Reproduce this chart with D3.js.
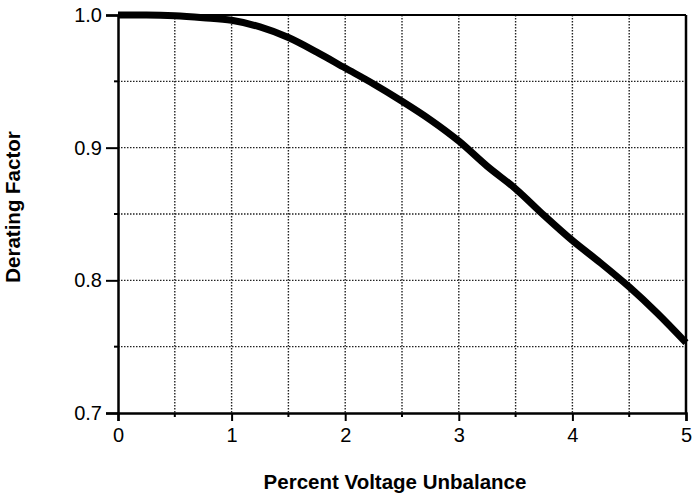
<!DOCTYPE html>
<html><head><meta charset="utf-8">
<script src="https://cdn.jsdelivr.net/npm/d3@7"></script>
<style>body{margin:0;background:#fff}svg{display:block}</style>
</head><body>
<svg id="c" width="699" height="496"></svg>
<script>
const xValues = [0,0.25,0.5,0.75,1,1.25,1.5,1.75,2,2.25,2.5,2.75,3,3.25,3.5,3.75,4,4.25,4.5,4.75,5];
const yValues = [1.0,1.0,0.9995,0.998,0.996,0.991,0.983,0.972,0.960,0.948,0.935,0.921,0.905,0.886,0.869,0.849,0.830,0.813,0.795,0.775,0.753];
const xTicks = [0,1,2,3,4,5];
const yTicks = [0.7,0.8,0.9,1.0];
const xGrid = [0.5,1,1.5,2,2.5,3,3.5,4,4.5];
const yGrid = [0.75,0.8,0.85,0.9,0.95];

const svg = d3.select("#c");
const m = {l:118, r:686, t:15, b:413};
const x = d3.scaleLinear().domain([0,5]).range([m.l, m.r]);
const y = d3.scaleLinear().domain([0.7,1.0]).range([m.b, m.t]);
const font = "'Liberation Sans', Arial, Helvetica, sans-serif";

// grid
svg.append("g").selectAll("line").data(xGrid).join("line")
  .attr("x1", d=>x(d)).attr("x2", d=>x(d)).attr("y1", m.t).attr("y2", m.b)
  .attr("stroke", "#222").attr("stroke-width", 1.4).attr("stroke-dasharray", "1.5,1.5");
svg.append("g").selectAll("line").data(yGrid).join("line")
  .attr("y1", d=>y(d)).attr("y2", d=>y(d)).attr("x1", m.l).attr("x2", m.r)
  .attr("stroke", "#222").attr("stroke-width", 1.4).attr("stroke-dasharray", "1.5,1.5");

// axes
const xAxis = svg.append("g").attr("transform", `translate(0,${m.b})`)
  .call(d3.axisBottom(x).tickValues(xTicks).tickFormat(d3.format("d")).tickSize(8).tickPadding(7));
const yAxis = svg.append("g").attr("transform", `translate(${m.l},0)`)
  .call(d3.axisLeft(y).tickValues(yTicks).tickFormat(d3.format(".1f")).tickSize(12).tickPadding(4));
[xAxis, yAxis].forEach(a=>{
  a.select(".domain").attr("stroke","#000").attr("stroke-width",2.5);
  a.selectAll(".tick line").attr("stroke","#000").attr("stroke-width",2);
  a.selectAll("text").attr("fill","#000").attr("font-family",font).attr("font-size",20);
});
// minor ticks
svg.append("g").selectAll("line").data([0.5,1.5,2.5,3.5,4.5]).join("line")
  .attr("x1", d=>x(d)).attr("x2", d=>x(d)).attr("y1", m.b).attr("y2", m.b+4)
  .attr("stroke","#000").attr("stroke-width",2);
svg.append("g").selectAll("line").data([0.75,0.85,0.95]).join("line")
  .attr("y1", d=>y(d)).attr("y2", d=>y(d)).attr("x1", m.l-4).attr("x2", m.l)
  .attr("stroke","#000").attr("stroke-width",2);
// right & top border
svg.append("line").attr("x1", m.r).attr("x2", m.r).attr("y1", m.t).attr("y2", m.b)
  .attr("stroke","#000").attr("stroke-width",2.5);
svg.append("line").attr("x1", m.l).attr("x2", m.r).attr("y1", m.t).attr("y2", m.t)
  .attr("stroke","#000").attr("stroke-width",2);

// curve
const data = xValues.map((v,i)=>[v, yValues[i]]);
svg.append("path").datum(data)
  .attr("d", d3.line().x(d=>x(d[0])).y(d=>y(d[1])).curve(d3.curveMonotoneX))
  .attr("fill","none").attr("stroke","#000").attr("stroke-width",7).attr("stroke-linejoin","round");

// titles
svg.append("text").attr("x", 395).attr("y", 489).attr("text-anchor","middle")
  .attr("font-family",font).attr("font-weight","bold").attr("font-size",20.5).text("Percent Voltage Unbalance");
svg.append("text").attr("transform","translate(20,207) rotate(-90)").attr("text-anchor","middle")
  .attr("font-family",font).attr("font-weight","bold").attr("font-size",20.5).text("Derating Factor");
</script>
</body></html>
